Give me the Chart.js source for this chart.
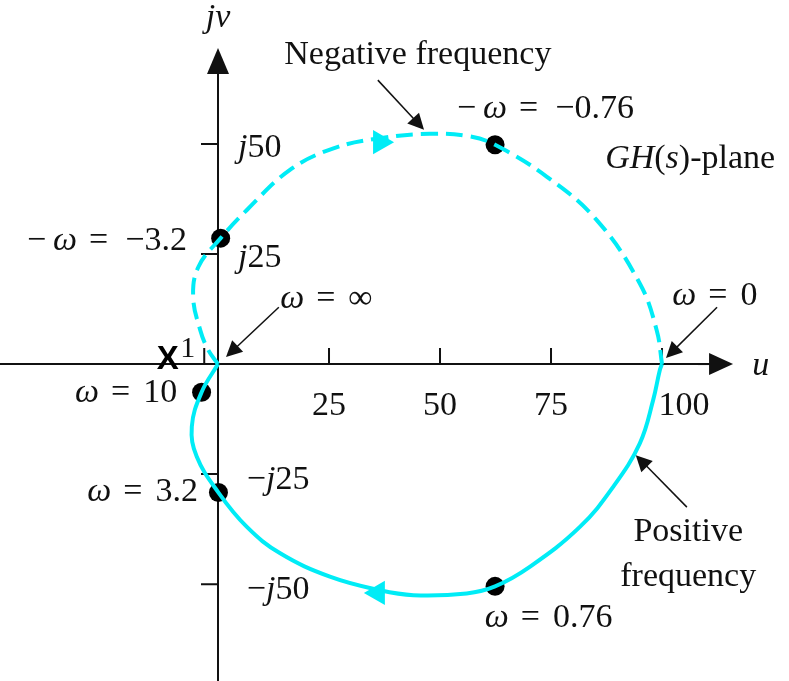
<!DOCTYPE html>
<html>
<head>
<meta charset="utf-8">
<title>Nyquist plot of GH(s)</title>
<script src="https://cdn.jsdelivr.net/npm/chart.js@4/dist/chart.umd.min.js"></script>
<style>
  html, body { margin: 0; padding: 0; background: #fff; }
  canvas { display: block; }
</style>
</head>
<body>
<canvas id="nyquist" width="789" height="681"></canvas>
<script>
// Positive frequency branch, from w = 0 round to w = infinity (u = Re, v = Im)
var posU = [100, 99.5, 98, 95, 89, 81.5, 70.3, 62.4, 56, 44, 36.5, 25.2, 14, 6.5, 0.1, -4.8, -5.9, -3.7, 0];
var posV = [0, -1.4, -8.2, -18, -27.9, -37, -46, -50.5, -52.1, -52.5, -51.4, -48.3, -43, -37, -29.2, -21, -14.2, -6.4, 0];

// Negative frequency branch, from -w = -infinity back to w = 0
var negU = [0, -2.2, -4, -5.6, -4.4, 0.6, 6.5, 16.2, 26, 36.5, 47.7, 56.8, 62.4, 74, 85.3, 95, 98.8, 100];
var negV = [0, 3.2, 7.7, 15.3, 22.1, 28.6, 35, 44.1, 49, 51.3, 52.3, 51.7, 49.8, 42.6, 32.7, 18.3, 7.7, 0];

// Marked frequencies on the contour
var markU = [62.4, 62.4, 0.1, 0.6, -3.7];
var markV = [-50.5, 49.8, -29.2, 28.6, -6.4];

// Direction arrows on the contour
var dirU = [36.5, 36];
var dirV = [50.4, -52];
var dirAngle = [90, -90];

// Axis ticks
var uTicks = [25, 50, 75, 100];
var uTickLabels = ['25', '50', '75', '100'];
var vTicks = [50, 25, -25, -50];
var vTickLabels = [['', 'j', '50'], ['', 'j', '25'], ['\u2212', 'j', '25'], ['\u2212', 'j', '50']];

function pts(us, vs) {
    return us.map(function (u, i) { return { x: u, y: vs[i] }; });
}

var CYAN = 'rgb(0, 236, 246)';
var INK = '#111';
var SERIF = '"Liberation Serif", "DejaVu Serif", serif';

// draw a run of text pieces: [text, italic] or a number for extra gap in px
function richText(ctx, parts, x, y, align, size) {
    var widths = parts.map(function (p) {
        if (typeof p === 'number') return p;
        ctx.font = (p[1] ? 'italic ' : '') + size + 'px ' + SERIF;
        return ctx.measureText(p[0]).width;
    });
    var total = widths.reduce(function (a, b) { return a + b; }, 0);
    var start = align === 'left' ? x : (align === 'right' ? x - total : x - total / 2);
    ctx.textAlign = 'left';
    ctx.textBaseline = 'middle';
    ctx.fillStyle = INK;
    parts.forEach(function (p, i) {
        if (typeof p !== 'number') {
            ctx.font = (p[1] ? 'italic ' : '') + size + 'px ' + SERIF;
            ctx.fillText(p[0], start, y);
        }
        start += widths[i];
    });
}

// "w = value", optionally with a leading minus on w
function omegaLabel(ctx, neg, value, x, y, align, size) {
    var parts = [];
    if (neg) parts.push(['\u2212', false], 7);
    parts.push(['\u03c9', true], 12, ['=', false], neg ? 17 : 13, [value, false]);
    richText(ctx, parts, x, y, align, size);
}

function arrow(ctx, x1, y1, x2, y2, len, half, width) {
    var a = Math.atan2(y2 - y1, x2 - x1);
    ctx.save();
    ctx.strokeStyle = INK;
    ctx.fillStyle = INK;
    ctx.lineWidth = width;
    ctx.beginPath();
    ctx.moveTo(x1, y1);
    ctx.lineTo(x2 - Math.cos(a) * len * 0.8, y2 - Math.sin(a) * len * 0.8);
    ctx.stroke();
    ctx.beginPath();
    ctx.moveTo(x2, y2);
    ctx.lineTo(x2 - Math.cos(a) * len - Math.sin(a) * half, y2 - Math.sin(a) * len + Math.cos(a) * half);
    ctx.lineTo(x2 - Math.cos(a) * len + Math.sin(a) * half, y2 - Math.sin(a) * len - Math.cos(a) * half);
    ctx.closePath();
    ctx.fill();
    ctx.restore();
}

// axes with arrows and ticks, drawn under the contour
var axesPlugin = {
    id: 'planeAxes',
    beforeDraw: function (chart) {
        var ctx = chart.ctx;
        ctx.save();
        ctx.fillStyle = '#fff';
        ctx.fillRect(0, 0, chart.width, chart.height);
        ctx.restore();
    },
    beforeDatasetsDraw: function (chart) {
        var ctx = chart.ctx;
        var xs = chart.scales.x, ys = chart.scales.y;
        var x0 = xs.getPixelForValue(0), y0 = ys.getPixelForValue(0);
        ctx.save();
        ctx.strokeStyle = INK;
        ctx.lineWidth = 2;
        ctx.beginPath();
        ctx.moveTo(0, y0);
        ctx.lineTo(xs.getPixelForValue(111), y0);
        ctx.moveTo(x0, chart.height);
        ctx.lineTo(x0, ys.getPixelForValue(66));
        ctx.stroke();
        arrow(ctx, xs.getPixelForValue(108), y0, xs.getPixelForValue(116), y0, 24, 11, 2);
        arrow(ctx, x0, ys.getPixelForValue(63), x0, ys.getPixelForValue(71.8), 26, 11, 2);

        ctx.lineWidth = 2;
        ctx.beginPath();
        uTicks.forEach(function (u) {
            var px = xs.getPixelForValue(u);
            ctx.moveTo(px, y0);
            ctx.lineTo(px, y0 - 16);
        });
        // the -1 point marker tick
        var p1 = xs.getPixelForValue(-3.1);
        ctx.moveTo(p1, y0);
        ctx.lineTo(p1, y0 - 16);
        vTicks.forEach(function (v) {
            var py = ys.getPixelForValue(v);
            ctx.moveTo(x0, py);
            ctx.lineTo(x0 - 17, py);
        });
        ctx.stroke();
        ctx.restore();
    },
    afterDraw: function (chart) {
        var ctx = chart.ctx;
        var xs = chart.scales.x, ys = chart.scales.y;
        function X(u) { return xs.getPixelForValue(u); }
        function Y(v) { return ys.getPixelForValue(v); }
        var S = 34;
        ctx.save();

        // tick labels
        uTicks.forEach(function (u, i) {
            var px = i === uTicks.length - 1 ? X(u) + 22 : X(u);
            richText(ctx, [[uTickLabels[i], false]], px, Y(-9.5), 'center', S);
        });
        vTicks.forEach(function (v, i) {
            var t = vTickLabels[i];
            richText(ctx, [[t[0], false], [t[1], true], [t[2], false]], X(v > 0 ? 4.5 : 6.5), Y(v) + (v > 0 ? 4 : 6), 'left', S);
        });

        // axis names
        richText(ctx, [['jv', true]], X(0), Y(78.6), 'center', S);
        richText(ctx, [['u', true]], X(120.3), Y(-0.5), 'left', S);
        richText(ctx, [['1', false]], X(-6.8), Y(3.4), 'center', 30);
        ctx.font = 'bold 33px "Liberation Sans", sans-serif';
        ctx.fillStyle = '#000';
        ctx.textAlign = 'center';
        ctx.textBaseline = 'middle';
        ctx.fillText('X', X(-11.3), Y(0.9));

        // frequency labels
        omegaLabel(ctx, true, '\u22120.76', X(53.8), Y(57.9), 'left', S);
        omegaLabel(ctx, true, '\u22123.2', X(-7), Y(27.9), 'right', S);
        omegaLabel(ctx, false, '\u221e', X(14), Y(14.8), 'left', S);
        omegaLabel(ctx, false, '0', X(102.3), Y(15.4), 'left', S);
        omegaLabel(ctx, false, '10', X(-9.2), Y(-6.6), 'right', S);
        omegaLabel(ctx, false, '3.2', X(-4.5), Y(-29.1), 'right', S);
        omegaLabel(ctx, false, '0.76', X(60.1), Y(-57.7), 'left', S);

        richText(ctx, [['GH', true], ['(', false], ['s', true], [')-plane', false]], X(87.2), Y(46.6), 'left', S);
        richText(ctx, [['Negative frequency', false]], X(45), Y(70.2), 'center', S);
        richText(ctx, [['Positive', false]], X(105.9), Y(-38.2), 'center', S);
        richText(ctx, [['frequency', false]], X(105.9), Y(-48.4), 'center', S);

        // pointer arrows
        arrow(ctx, X(36), Y(64.5), X(46.4), Y(53.2), 16, 8, 1.5);
        arrow(ctx, X(13.7), Y(12.9), X(1.8), Y(1.6), 16, 8, 1.5);
        arrow(ctx, X(112.4), Y(12.9), X(100.9), Y(1.4), 16, 8, 1.5);
        arrow(ctx, X(105.6), Y(-32.5), X(94.1), Y(-20.7), 16, 8, 1.5);
        ctx.restore();
    }
};

var ctx = document.getElementById('nyquist').getContext('2d');
var chart = new Chart(ctx, {
    type: 'scatter',
    data: {
        datasets: [
            {
                label: 'Positive frequency',
                data: pts(posU, posV),
                showLine: true,
                borderColor: CYAN,
                borderWidth: 4,
                tension: 0.4,
                pointRadius: 0,
                fill: false
            },
            {
                label: 'Negative frequency',
                data: pts(negU, negV),
                showLine: true,
                borderColor: CYAN,
                borderWidth: 4,
                borderDash: [17, 8],
                tension: 0.4,
                pointRadius: 0,
                fill: false
            },
            {
                label: 'Direction',
                data: pts(dirU, dirV),
                pointStyle: 'triangle',
                pointRadius: 14,
                pointRotation: dirAngle,
                backgroundColor: CYAN,
                borderColor: CYAN,
                borderWidth: 0
            },
            {
                label: 'Marked frequencies',
                data: pts(markU, markV),
                pointStyle: 'circle',
                pointRadius: 9.5,
                backgroundColor: '#000',
                borderColor: '#000',
                borderWidth: 0
            }
        ]
    },
    options: {
        responsive: false,
        animation: false,
        events: [],
        layout: { padding: 0, autoPadding: false },
        plugins: {
            legend: { display: false },
            tooltip: { enabled: false }
        },
        scales: {
            x: { type: 'linear', min: -49.1, max: 128.6, display: false },
            y: { type: 'linear', min: -72.0, max: 82.7, display: false }
        }
    },
    plugins: [axesPlugin]
});
</script>
</body>
</html>
